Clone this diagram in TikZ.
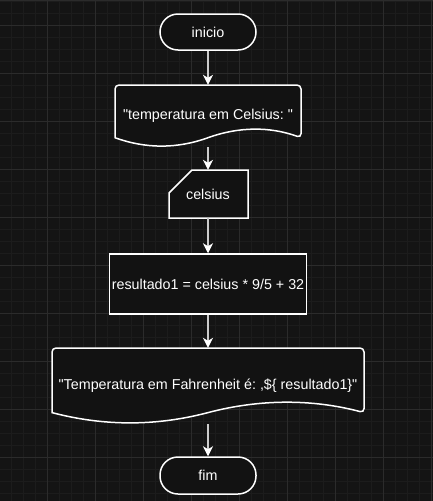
\documentclass[tikz,border=0pt]{standalone}
\usepackage{fontspec}
\setmainfont{Liberation Sans}[Ligatures=TeXOff]
\usepackage{xcolor}
\usepackage{tikz}
\usetikzlibrary{arrows.meta}
\frenchspacing

\definecolor{canvas}{HTML}{141414}
\definecolor{gridminor}{HTML}{1C1C1C}
\definecolor{gridmajor}{HTML}{2B2B2B}
\definecolor{shapefill}{HTML}{121212}
\definecolor{edgegray}{HTML}{CCCCCC}

\tikzset{
	flowtext/.style={text=white, font=\fontsize{14.3}{17}\selectfont\frenchspacing, inner sep=0pt},
	terminal/.style={flowtext, draw=white, fill=shapefill, line width=1.5pt, rounded corners=18pt, minimum width=96pt, minimum height=36pt},
	process/.style={flowtext, draw=white, fill=shapefill, line width=1.5pt, minimum width=197pt, minimum height=60pt},
	outline/.style={draw=white, fill=shapefill, line width=1.5pt},
	flow/.style={draw=edgegray, line width=1.4pt, -{Stealth[length=10pt,width=10pt,inset=3pt,color=white]}}
}

\begin{document}
\begin{tikzpicture}[x=1pt,y=-1pt]
 \useasboundingbox (0,0) rectangle (433,501);
 \fill[canvas] (0,0) rectangle (433,501);
%	grid
 \foreach \gx in {11.5,23.5,...,431.5}
	\draw[gridminor, line width=0.8pt] (\gx,0) -- (\gx,501);
 \foreach \gy in {1,13,...,493}
	\draw[gridminor, line width=0.8pt] (0,\gy) -- (433,\gy);
 \foreach \gx in {47.5,95.5,...,431.5}
	\draw[gridmajor, line width=0.8pt] (\gx,0) -- (\gx,501);
 \foreach \gy in {25,73,...,457}
	\draw[gridmajor, line width=0.8pt] (0,\gy) -- (433,\gy);
 \draw[gridmajor, line width=1pt] (0,0.5) -- (433,0.5);

%	outlines
 \draw[outline]
		(115,137.7) [rounded corners=4pt] -- (115,85) -- (301,85) -- (301,137.7) [sharp corners]
		.. controls (270,126.5) and (239,126.5) .. (208,137.7)
		.. controls (177,148.9) and (146,148.9) .. (115,137.7) -- cycle;
 \draw[outline]
		(169,218) -- (169,193) -- (192,170) -- (248,170) -- (248,218) -- cycle;
 \draw[outline]
		(52,412.6) [rounded corners=4pt] -- (52,348) -- (364,348) -- (364,412.6) [sharp corners]
		.. controls (312,398.9) and (260,398.9) .. (208,412.6)
		.. controls (156,426.3) and (104,426.3) .. (52,412.6) -- cycle;

%	nodes
 \node[terminal] (inicio) at (208,32) {inicio};
 \node[flowtext, minimum width=186pt, minimum height=62pt] (prompt) at (208,116) {"temperatura em Celsius: "};
 \node[flowtext, minimum width=79pt, minimum height=48pt] (celsius) at (208,194) {celsius};
 \node[process] (calc) at (208,284) {resultado1 = celsius * 9/5 + 32};
 \node[flowtext, minimum width=312pt, minimum height=76pt] (saida) at (208,386) {"Temperatura em Fahrenheit é: ,\$\{ resultado1\}"};
 \node[terminal, minimum height=37pt] (fim) at (208,475.5) {fim};

%	arrows
 \draw[flow] (inicio) -- (prompt);
 \draw[flow] (prompt) -- (celsius);
 \draw[flow] (celsius) -- (calc);
 \draw[flow] (calc) -- (saida);
 \draw[flow] (saida) -- (fim);
\end{tikzpicture}
\end{document}
